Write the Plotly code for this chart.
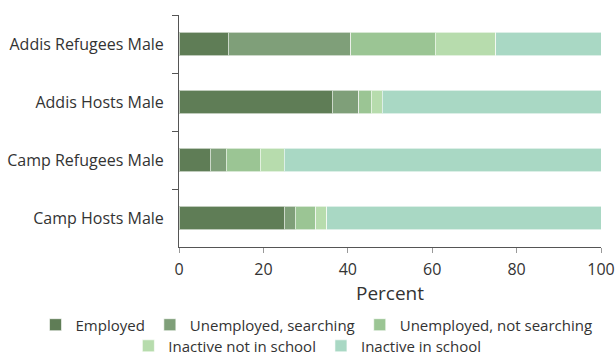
import plotly.graph_objects as go

groups = ["Addis Refugees Male", "Addis Hosts Male", "Camp Refugees Male", "Camp Hosts Male"]
employed = [11.7, 36.3, 7.4, 24.9]
unemp_searching = [29.0, 6.3, 3.8, 2.6]
unemp_not_searching = [20.0, 3.0, 8.0, 4.9]
inactive_not_school = [14.4, 2.6, 5.7, 2.6]
inactive_school = [24.9, 51.8, 75.1, 65.0]

# name, values, colour, which legend row
series = [
    ("Employed", employed, "#5f7d56", "legend"),
    ("Unemployed, searching", unemp_searching, "#7f9f79", "legend"),
    ("Unemployed, not searching", unemp_not_searching, "#9bc594", "legend"),
    ("Inactive not in school", inactive_not_school, "#b7dcad", "legend2"),
    ("Inactive in school", inactive_school, "#a9d8c4", "legend2"),
]

fig = go.Figure()
for name, vals, color, leg in series:
    fig.add_trace(go.Bar(
        y=groups, x=vals, name=name, orientation="h", legend=leg,
        marker=dict(color=color, line=dict(color="rgba(255,255,255,0.6)", width=1)),
    ))

# legends sit left of the plot area (x < 0) so plotly lets them run the full width
legend_style = dict(orientation="h", xanchor="left", yanchor="middle",
                    bgcolor="rgba(0,0,0,0)", font=dict(size=15),
                    traceorder="normal", itemwidth=30)

fig.update_layout(
    width=615, height=356,
    barmode="stack", bargap=0.59,
    plot_bgcolor="white", paper_bgcolor="white",
    font=dict(family="Open Sans", size=16, color="#333333"),
    margin=dict(l=179, r=14, t=15, b=109, autoexpand=False),
    legend=dict(x=-0.340, y=-0.336, **legend_style),
    legend2=dict(x=-0.120, y=-0.427, **legend_style),
)
fig.update_xaxes(
    range=[0, 100], tickvals=[0, 20, 40, 60, 80, 100],
    ticks="outside", ticklen=5, tickcolor="#999999", ticklabelstandoff=3,
    ticklabeloverflow="allow",
    showline=True, linecolor="#555555", showgrid=False, zeroline=False,
    title=dict(text="Percent", standoff=0), automargin=False,
)
fig.update_yaxes(
    categoryorder="array", categoryarray=groups, autorange="reversed",
    tickson="boundaries", ticks="outside", ticklen=6, tickcolor="#555555",
    ticklabelstandoff=11,
    showline=True, linecolor="#555555", showgrid=False, automargin=False,
)

fig.write_html("out.html", config={"displayModeBar": False},
               post_script="document.body.style.margin = '0';")
